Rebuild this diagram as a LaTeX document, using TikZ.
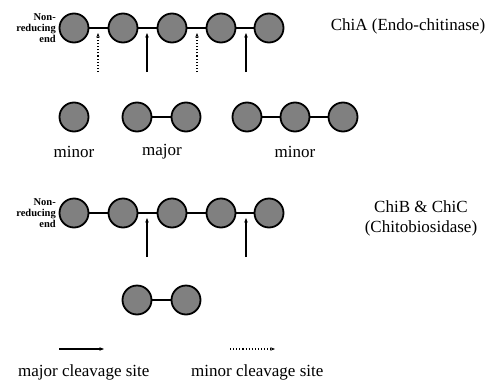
\documentclass[tikz,border=0pt]{standalone}
\usepackage{fontspec}
\setmainfont{Liberation Serif}
\usetikzlibrary{arrows.meta}
\definecolor{sugar}{HTML}{808080}
\tikzset{
  sugarnode/.style={circle, draw=black, fill=sugar, line width=1.8pt, minimum size=29pt, inner sep=0pt},
  bond/.style={line width=1.8pt},
  majarrow/.style={line width=1.1pt, -{Stealth[length=4.5pt,width=3.5pt]}},
  minarrow/.style={line width=1.1pt, dotted, -{Stealth[length=4.5pt,width=3.5pt]}},
  lbl/.style={font=\fontsize{17}{19}\selectfont, inner sep=0pt},
  endlbl/.style={font=\bfseries\fontsize{10.5}{11}\selectfont, align=right, inner sep=0pt}
}
\begin{document}
\begin{tikzpicture}[x=1pt,y=-1pt]
\useasboundingbox (0,0) rectangle (490,383);
% Top chain
\foreach \i/\x in {1/74,2/123,3/172,4/221,5/269}{
  \node[sugarnode] (a\i) at (\x,28) {};
}
\draw[bond] (a1) -- (a2) (a2) -- (a3) (a3) -- (a4) (a4) -- (a5);
\node[endlbl, anchor=east] (ne1) at (56,28) {Non-\\reducing\\end};
\node[lbl] (t1) at (408,26) {ChiA (Endo-chitinase)};
\coordinate (p1s) at (98,72); \coordinate (p1e) at (98,33);
\coordinate (p2s) at (147,72); \coordinate (p2e) at (147,33);
\coordinate (p3s) at (197,72); \coordinate (p3e) at (197,33);
\coordinate (p4s) at (246,72); \coordinate (p4e) at (246,33);
\draw[minarrow] (p1s) -- (p1e);
\draw[majarrow] (p2s) -- (p2e);
\draw[minarrow] (p3s) -- (p3e);
\draw[majarrow] (p4s) -- (p4e);
% Products
\node[sugarnode] (b1) at (74,117) {};
\node[sugarnode] (c1) at (137,117) {};
\node[sugarnode] (c2) at (186,117) {};
\node[sugarnode] (d1) at (247,117) {};
\node[sugarnode] (d2) at (295,117) {};
\node[sugarnode] (d3) at (343,117) {};
\draw[bond] (c1) -- (c2) (d1) -- (d2) (d2) -- (d3);
\node[lbl] (l1) at (74,152) {minor};
\node[lbl] (l2) at (162,152) {major};
\node[lbl] (l3) at (295,152) {minor};
% Second chain
\foreach \i/\x in {1/74,2/123,3/172,4/221,5/269}{
  \node[sugarnode] (e\i) at (\x,213) {};
}
\draw[bond] (e1) -- (e2) (e2) -- (e3) (e3) -- (e4) (e4) -- (e5);
\node[endlbl, anchor=east] (ne2) at (56,213) {Non-\\reducing\\end};
\node[lbl] (t2) at (421,207) {ChiB \& ChiC};
\node[lbl] (t3) at (421,228) {(Chitobiosidase)};
\coordinate (q1s) at (147,257); \coordinate (q1e) at (147,218);
\coordinate (q2s) at (246,257); \coordinate (q2e) at (246,218);
\draw[majarrow] (q1s) -- (q1e);
\draw[majarrow] (q2s) -- (q2e);
\node[sugarnode] (f1) at (137,300) {};
\node[sugarnode] (f2) at (186,300) {};
\draw[bond] (f1) -- (f2);
% Legend
\coordinate (m1s) at (59,349); \coordinate (m1e) at (104,349);
\coordinate (m2s) at (230,349); \coordinate (m2e) at (275,349);
\draw[majarrow] (m1s) -- (m1e);
\draw[minarrow] (m2s) -- (m2e);
\node[lbl, anchor=west] (g1) at (18,372) {major cleavage site};
\node[lbl, anchor=west] (g2) at (191,372) {minor cleavage site};
\end{tikzpicture}
\end{document}
